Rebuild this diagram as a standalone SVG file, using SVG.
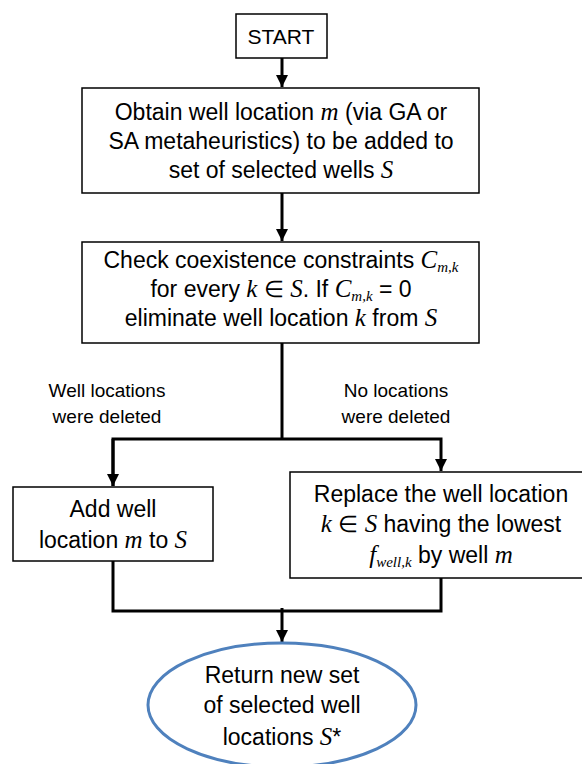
<svg xmlns="http://www.w3.org/2000/svg" width="582" height="764" viewBox="0 0 582 764">
<defs>
<style>
.box{fill:#fff;stroke:#000;stroke-width:1.5}
.t{font-family:"Liberation Sans",Arial,sans-serif;font-size:23px;fill:#000;text-anchor:middle}
.m{font-family:"Liberation Serif","Times New Roman",serif;font-style:italic;font-size:25px}
.s{font-size:15px}
.c{fill:none;stroke:#000;stroke-width:3}
</style>
<marker id="ah" viewBox="0 0 10 10" refX="10" refY="5" markerWidth="4" markerHeight="4" markerUnits="strokeWidth" orient="auto">
<path d="M0,0 L10,5 L0,10 z" fill="#000"/>
</marker>
</defs>
<rect width="582" height="764" fill="#fff"/>
<g id="connectors">
<line class="c" x1="282" y1="58" x2="282" y2="87" marker-end="url(#ah)"/>
<line class="c" x1="282" y1="193" x2="282" y2="241" marker-end="url(#ah)"/>
<polyline class="c" points="282,343 282,439"/>
<polyline class="c" points="113,486 113,439 441,439 441,471" marker-end="url(#ah)"/>
<line class="c" x1="113" y1="439" x2="113" y2="486" marker-end="url(#ah)"/>
<polyline class="c" points="113,561 113,611 441,611 441,578"/>
<line class="c" x1="282" y1="608" x2="282" y2="642" marker-end="url(#ah)"/>
</g>
<g id="start">
<rect class="box" x="236" y="14" width="91" height="44"/>
<text class="t" x="281" y="44" style="font-size:21px">START</text>
</g>
<g id="obtain">
<rect class="box" x="82" y="88" width="397" height="105"/>
<text class="t" x="281" y="120">Obtain well location <tspan class="m">m</tspan> (via GA or</text>
<text class="t" x="281" y="149">SA metaheuristics) to be added to</text>
<text class="t" x="281" y="178">set of selected wells <tspan class="m">S</tspan></text>
</g>
<g id="check">
<rect class="box" x="82" y="242" width="397" height="101"/>
<text class="t" x="281" y="268">Check coexistence constraints <tspan class="m">C<tspan class="s" dy="4">m,k</tspan></tspan></text>
<text class="t" x="281" y="297">for every <tspan class="m">k</tspan> ∈ <tspan class="m">S</tspan>.  If <tspan class="m">C<tspan class="s" dy="4">m,k</tspan></tspan><tspan dy="-4"> = 0</tspan></text>
<text class="t" x="281" y="326">eliminate well location <tspan class="m">k</tspan> from <tspan class="m">S</tspan></text>
</g>
<g id="label-left">
<text class="t" x="107" y="397" style="font-size:19px">Well locations</text>
<text class="t" x="107" y="423" style="font-size:19px">were deleted</text>
</g>
<g id="label-right">
<text class="t" x="396" y="397" style="font-size:19px">No locations</text>
<text class="t" x="396" y="423" style="font-size:19px">were deleted</text>
</g>
<g id="add">
<rect class="box" x="13" y="487" width="200" height="74"/>
<text class="t" x="113" y="517">Add well</text>
<text class="t" x="113" y="548">location <tspan class="m">m</tspan> to <tspan class="m">S</tspan></text>
</g>
<g id="replace">
<rect class="box" x="290" y="472" width="302" height="106"/>
<text class="t" x="441" y="502">Replace the well location</text>
<text class="t" x="441" y="532"><tspan class="m">k</tspan> ∈ <tspan class="m">S</tspan> having the lowest</text>
<text class="t" x="441" y="563"><tspan class="m">f<tspan class="s" dy="4">well,k</tspan></tspan><tspan dy="-4"> by well </tspan><tspan class="m">m</tspan></text>
</g>
<g id="return">
<ellipse cx="282" cy="705" rx="134" ry="62" fill="#fff" stroke="#4f81bd" stroke-width="3"/>
<text class="t" x="282" y="683">Return new set</text>
<text class="t" x="282" y="713">of selected well</text>
<text class="t" x="282" y="745">locations <tspan class="m">S</tspan>*</text>
</g>
</svg>
